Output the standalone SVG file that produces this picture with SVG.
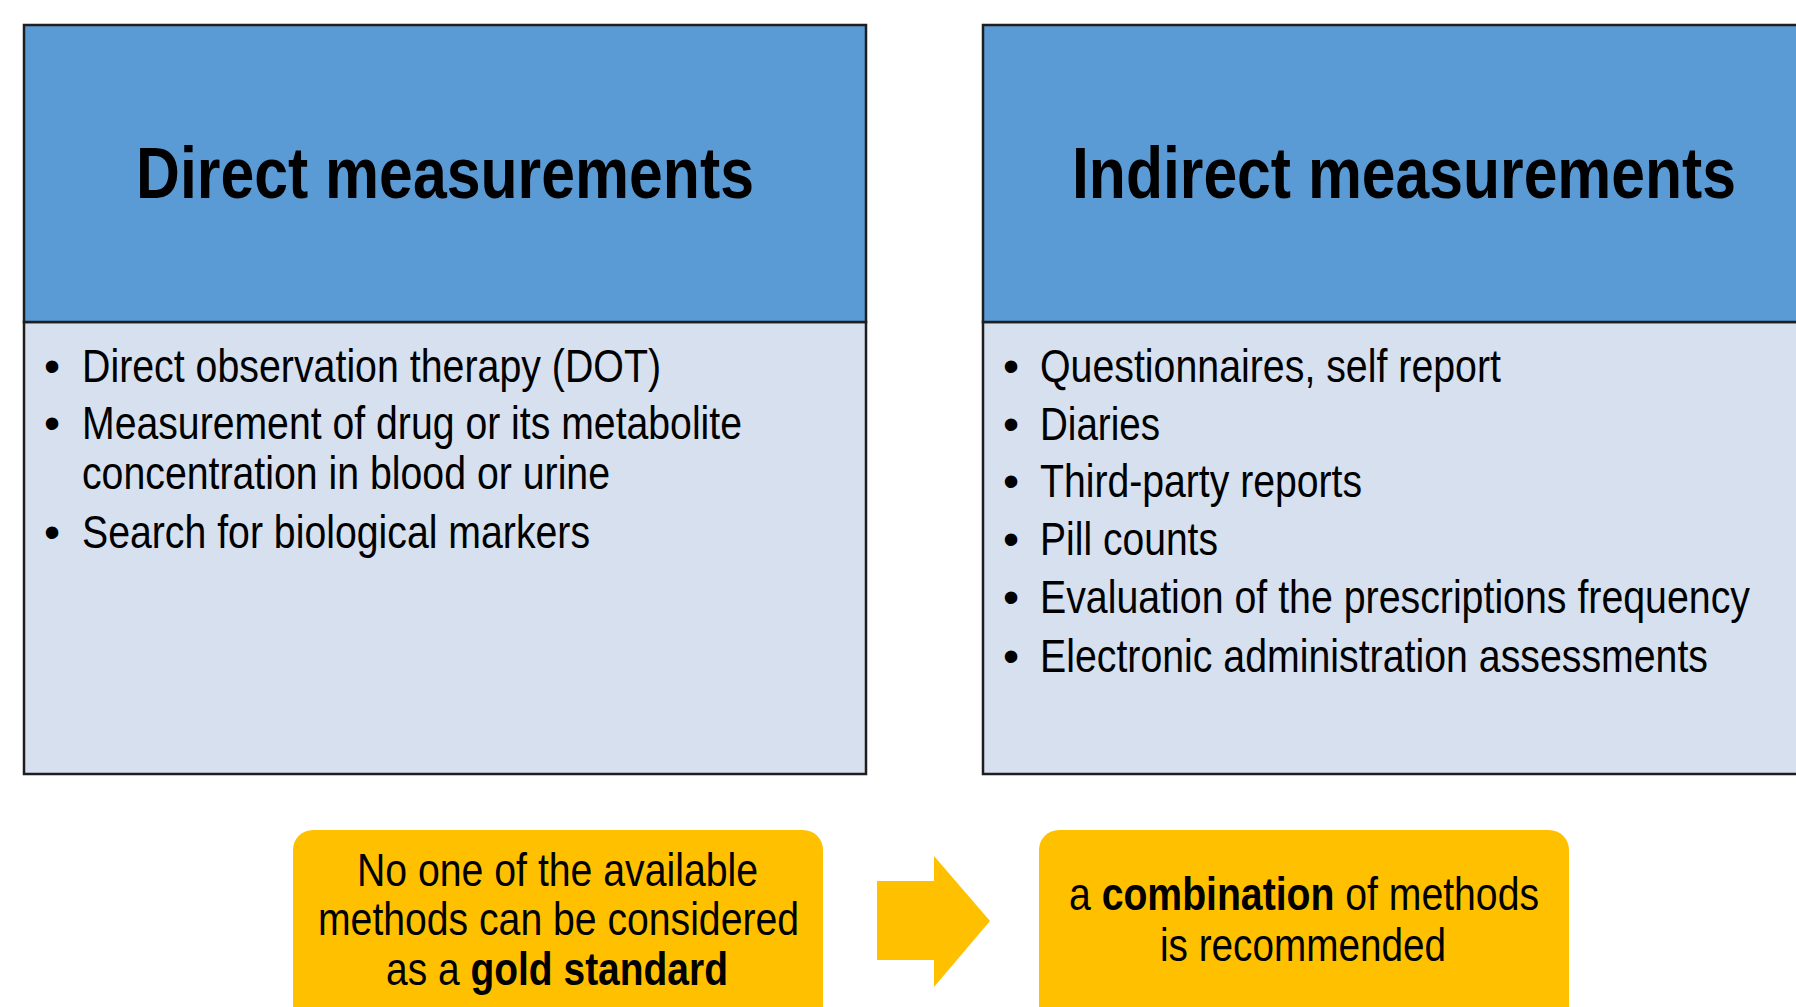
<svg xmlns="http://www.w3.org/2000/svg" width="1796" height="1007" viewBox="0 0 1796 1007">
  <style>
    .head { fill: #5B9BD5; stroke: #1e1e1e; stroke-width: 2.5; }
    .body { fill: #D6E0EE; stroke: #1e1e1e; stroke-width: 2.5; }
    .note { fill: #FFC000; }
    .title { font-family: "Liberation Sans Narrow", "Liberation Sans", Arial, sans-serif; font-weight: bold; font-size: 73px; fill: #000; }
    .txt { font-family: "Liberation Sans Narrow", "Liberation Sans", Arial, sans-serif; font-size: 46px; fill: #000; }
    .bold { font-weight: bold; }
    .dot { font-family: "Liberation Sans", Arial, sans-serif; font-size: 46px; fill: #000; }
  </style>

  <rect x="0" y="0" width="1796" height="1007" fill="#ffffff"/>

  <!-- Direct measurements panel -->
  <g id="direct">
    <rect class="body" x="24" y="322" width="842" height="452"/>
    <rect class="head" x="24" y="25" width="842" height="297"/>
    <text class="title" x="136" y="198" textLength="618" lengthAdjust="spacingAndGlyphs">Direct measurements</text>
    <text class="dot" x="44" y="382">•</text>
    <text class="txt" x="82" y="382" textLength="579" lengthAdjust="spacingAndGlyphs">Direct observation therapy (DOT)</text>
    <text class="dot" x="44" y="439">•</text>
    <text class="txt" x="82" y="439" textLength="660" lengthAdjust="spacingAndGlyphs">Measurement of drug or its metabolite</text>
    <text class="txt" x="82" y="489" textLength="528" lengthAdjust="spacingAndGlyphs">concentration in blood or urine</text>
    <text class="dot" x="44" y="548">•</text>
    <text class="txt" x="82" y="548" textLength="508" lengthAdjust="spacingAndGlyphs">Search for biological markers</text>
  </g>

  <!-- Indirect measurements panel (runs past the right edge) -->
  <g id="indirect">
    <rect class="body" x="983" y="322" width="842" height="452"/>
    <rect class="head" x="983" y="25" width="842" height="297"/>
    <text class="title" x="1072" y="198" textLength="664" lengthAdjust="spacingAndGlyphs">Indirect measurements</text>
    <text class="dot" x="1003" y="382">•</text>
    <text class="txt" x="1040" y="382" textLength="461" lengthAdjust="spacingAndGlyphs">Questionnaires, self report</text>
    <text class="dot" x="1003" y="440">•</text>
    <text class="txt" x="1040" y="440" textLength="120" lengthAdjust="spacingAndGlyphs">Diaries</text>
    <text class="dot" x="1003" y="497">•</text>
    <text class="txt" x="1040" y="497" textLength="322" lengthAdjust="spacingAndGlyphs">Third-party reports</text>
    <text class="dot" x="1003" y="555">•</text>
    <text class="txt" x="1040" y="555" textLength="178" lengthAdjust="spacingAndGlyphs">Pill counts</text>
    <text class="dot" x="1003" y="613">•</text>
    <text class="txt" x="1040" y="613" textLength="710" lengthAdjust="spacingAndGlyphs">Evaluation of the prescriptions frequency</text>
    <text class="dot" x="1003" y="672">•</text>
    <text class="txt" x="1040" y="672" textLength="668" lengthAdjust="spacingAndGlyphs">Electronic administration assessments</text>
  </g>

  <!-- Conclusion note -->
  <g id="no-gold-standard">
    <rect class="note" x="293" y="830" width="530" height="200" rx="20" ry="20"/>
    <text class="txt" x="357" y="886" textLength="401" lengthAdjust="spacingAndGlyphs">No one of the available</text>
    <text class="txt" x="318" y="935" textLength="481" lengthAdjust="spacingAndGlyphs">methods can be considered</text>
    <text class="txt" x="386" y="985" textLength="342" lengthAdjust="spacingAndGlyphs">as a <tspan class="bold">gold standard</tspan></text>
  </g>

  <!-- Recommendation note -->
  <g id="combination">
    <rect class="note" x="1039" y="830" width="530" height="200" rx="20" ry="20"/>
    <text class="txt" x="1069" y="910" textLength="470" lengthAdjust="spacingAndGlyphs">a <tspan class="bold">combination</tspan> of methods</text>
    <text class="txt" x="1160" y="961" textLength="286" lengthAdjust="spacingAndGlyphs">is recommended</text>
  </g>

  <!-- Connector: block arrow between the notes -->
  <g id="connectors">
    <polygon class="note" points="877,881 934,881 934,856 990,921 934,987 934,960 877,960"/>
  </g>
</svg>
